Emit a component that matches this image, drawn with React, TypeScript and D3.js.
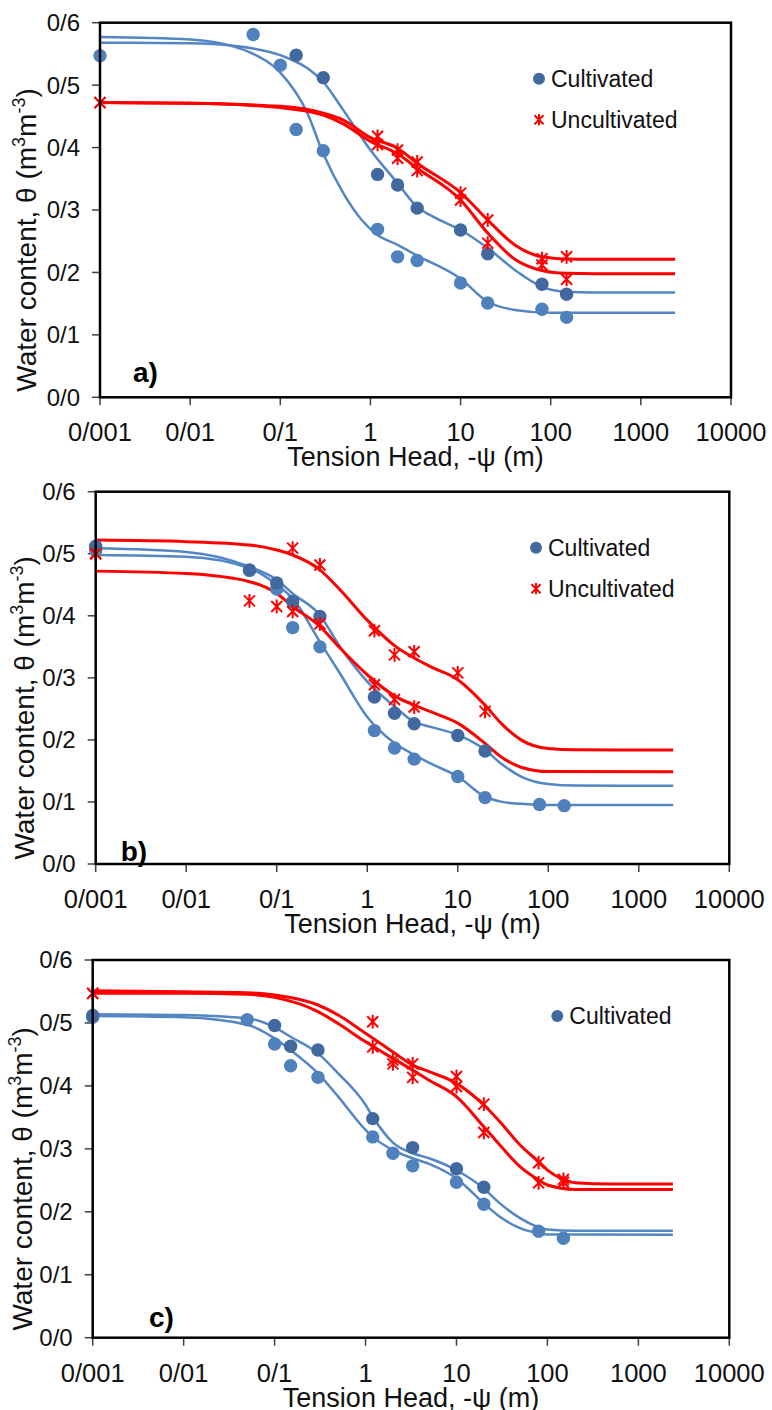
import React from 'react'
import * as d3 from 'd3'

type Pt = [number, number]

// tick labels (the figure uses "/" as decimal separator)
const xTickValues = [0.001, 0.01, 0.1, 1, 10, 100, 1000, 10000]
const xTickLabels = ['0/001', '0/01', '0/1', '1', '10', '100', '1000', '10000']
const yTickValues = [0, 0.1, 0.2, 0.3, 0.4, 0.5, 0.6]
const yTickLabels = ['0/0', '0/1', '0/2', '0/3', '0/4', '0/5', '0/6']

// ---- panel a) measured points [tension head (m), theta]
const aCultDark: Pt[] = [[0.15, 0.548], [0.3, 0.512], [1.2, 0.357], [2, 0.34], [3.3, 0.303], [10, 0.268], [20, 0.23], [80, 0.181], [150, 0.165]]
const aCultLight: Pt[] = [[0.001, 0.547], [0.05, 0.581], [0.1, 0.532], [0.15, 0.429], [0.3, 0.395], [1.2, 0.269], [2, 0.225], [3.3, 0.219], [10, 0.183], [20, 0.151], [80, 0.141], [150, 0.128]]
const aUncult1: Pt[] = [[0.001, 0.472], [1.2, 0.418], [2, 0.396], [3.3, 0.377], [10, 0.327], [20, 0.284], [80, 0.222], [150, 0.225]]
const aUncult2: Pt[] = [[0.001, 0.472], [1.2, 0.405], [2, 0.383], [3.3, 0.363], [10, 0.316], [20, 0.247], [80, 0.212], [150, 0.189]]
// fitted curves
const aFitDark: Pt[] = [[0.001, 0.568], [0.01, 0.567], [0.03, 0.563], [0.1, 0.548], [0.2, 0.527], [0.3, 0.505], [0.5, 0.46], [1, 0.396], [2, 0.343], [3.3, 0.305], [5, 0.289], [10, 0.268], [20, 0.239], [40, 0.204], [80, 0.177], [150, 0.169], [300, 0.168], [2400, 0.168]]
const aFitLight: Pt[] = [[0.001, 0.577], [0.01, 0.573], [0.03, 0.562], [0.05, 0.55], [0.1, 0.52], [0.2, 0.455], [0.3, 0.39], [0.5, 0.327], [0.8, 0.284], [1.2, 0.26], [2, 0.244], [3.3, 0.227], [10, 0.19], [20, 0.153], [40, 0.14], [100, 0.1355], [2400, 0.1355]]
const aFitRed1: Pt[] = [[0.001, 0.472], [0.01, 0.471], [0.1, 0.466], [0.3, 0.455], [0.5, 0.444], [1, 0.416], [2, 0.399], [3.3, 0.375], [10, 0.328], [20, 0.284], [40, 0.244], [80, 0.225], [150, 0.2215], [300, 0.221], [2400, 0.221]]
const aFitRed2: Pt[] = [[0.001, 0.472], [0.01, 0.471], [0.1, 0.464], [0.3, 0.452], [0.5, 0.438], [1, 0.41], [2, 0.39], [3.3, 0.367], [10, 0.316], [20, 0.263], [40, 0.221], [80, 0.203], [150, 0.1985], [300, 0.198], [2400, 0.198]]

// ---- panel b)
const bCultDark: Pt[] = [[0.001, 0.512], [0.05, 0.474], [0.1, 0.453], [0.15, 0.423], [0.3, 0.399], [1.2, 0.269], [2, 0.243], [3.3, 0.226], [10, 0.207], [20, 0.182]]
const bCultLight: Pt[] = [[0.001, 0.505], [0.05, 0.473], [0.1, 0.443], [0.15, 0.381], [0.3, 0.35], [1.2, 0.215], [2, 0.187], [3.3, 0.169], [10, 0.141], [20, 0.107], [80, 0.096], [150, 0.094]]
const bUncult1: Pt[] = [[0.001, 0.5], [0.15, 0.509], [0.3, 0.482], [1.2, 0.376], [2, 0.337], [3.3, 0.342], [10, 0.308], [20, 0.246]]
const bUncult2: Pt[] = [[0.001, 0.5], [0.05, 0.424], [0.1, 0.415], [0.15, 0.407], [0.3, 0.387], [1.2, 0.289], [2, 0.265], [3.3, 0.253]]
const bFitRed1: Pt[] = [[0.001, 0.522], [0.01, 0.5195], [0.05, 0.514], [0.1, 0.506], [0.15, 0.498], [0.3, 0.474], [0.5, 0.442], [1, 0.393], [2, 0.352], [3.3, 0.332], [5, 0.318], [10, 0.297], [20, 0.256], [30, 0.227], [50, 0.2], [100, 0.186], [200, 0.184], [2400, 0.1837]]
const bFitRed2: Pt[] = [[0.001, 0.472], [0.01, 0.468], [0.05, 0.455], [0.1, 0.436], [0.15, 0.415], [0.3, 0.383], [0.5, 0.348], [1, 0.305], [2, 0.271], [3.3, 0.256], [5, 0.2455], [10, 0.227], [20, 0.1945], [30, 0.173], [50, 0.156], [100, 0.149], [2400, 0.1488]]
const bFitDark: Pt[] = [[0.001, 0.509], [0.01, 0.503], [0.05, 0.479], [0.1, 0.458], [0.15, 0.436], [0.3, 0.401], [0.5, 0.35], [1, 0.294], [2, 0.254], [3.3, 0.229], [5, 0.221], [10, 0.208], [20, 0.184], [30, 0.162], [50, 0.141], [100, 0.129], [200, 0.1265], [2400, 0.1262]]
const bFitLight: Pt[] = [[0.001, 0.498], [0.01, 0.495], [0.05, 0.4765], [0.1, 0.45], [0.15, 0.428], [0.3, 0.358], [0.5, 0.307], [1, 0.237], [2, 0.195], [3.3, 0.176], [5, 0.162], [10, 0.141], [20, 0.1085], [30, 0.1005], [50, 0.097], [100, 0.095], [2400, 0.095]]

// ---- panel c)
const cCultDark: Pt[] = [[0.001, 0.512], [0.1, 0.496], [0.15, 0.463], [0.3, 0.457], [1.2, 0.348], [3.3, 0.302], [10, 0.2685], [20, 0.239]]
const cCultLight: Pt[] = [[0.001, 0.509], [0.05, 0.505], [0.1, 0.4665], [0.15, 0.432], [0.3, 0.4136], [1.2, 0.319], [2, 0.293], [3.3, 0.273], [10, 0.247], [20, 0.212], [80, 0.169], [150, 0.158]]
const cUncult1: Pt[] = [[0.001, 0.547], [1.2, 0.502], [2, 0.441], [3.3, 0.435], [10, 0.415], [20, 0.371], [80, 0.278], [150, 0.2515]]
const cUncult2: Pt[] = [[0.001, 0.547], [1.2, 0.462], [2, 0.435], [3.3, 0.4135], [10, 0.399], [20, 0.326], [80, 0.246], [150, 0.247]]
const cFitRed1: Pt[] = [[0.001, 0.551], [0.01, 0.5496], [0.05, 0.548], [0.1, 0.5444], [0.3, 0.5285], [0.5, 0.5126], [1, 0.4835], [2, 0.454], [3.3, 0.433], [5, 0.4226], [10, 0.404], [20, 0.3696], [30, 0.343], [50, 0.306], [80, 0.2796], [100, 0.2663], [150, 0.2515], [200, 0.2462], [500, 0.244], [2400, 0.244]]
const cFitRed2: Pt[] = [[0.001, 0.547], [0.01, 0.547], [0.05, 0.5454], [0.1, 0.5406], [0.3, 0.518], [0.5, 0.499], [1, 0.47], [2, 0.4437], [3.3, 0.425], [5, 0.409], [10, 0.383], [20, 0.335], [30, 0.306], [50, 0.2716], [80, 0.2505], [100, 0.2425], [200, 0.2356], [2400, 0.2356]]
const cFitDark: Pt[] = [[0.001, 0.514], [0.01, 0.5126], [0.05, 0.5073], [0.1, 0.493], [0.15, 0.478], [0.3, 0.4517], [0.5, 0.42], [1, 0.37], [1.2, 0.351], [2, 0.31], [3.3, 0.293], [5, 0.285], [10, 0.266], [20, 0.237], [30, 0.2134], [50, 0.19], [100, 0.172], [200, 0.17], [2400, 0.17]]
const cFitLight: Pt[] = [[0.001, 0.511], [0.01, 0.509], [0.05, 0.497], [0.1, 0.4755], [0.15, 0.457], [0.3, 0.42], [0.5, 0.383], [1, 0.33], [1.2, 0.319], [2, 0.298], [3.3, 0.285], [5, 0.276], [10, 0.253], [20, 0.2134], [30, 0.192], [50, 0.174], [80, 0.166], [100, 0.164], [2400, 0.1635]]

const DARK = '#41699f'
const LIGHT = '#4f81bd'
const LINE_BLUE = '#5486c4'
const RED = '#ff0000'
const FONT = 'Liberation Sans, Arial, sans-serif'

interface PanelProps {
  left: number
  right: number
  top: number
  bottom: number
  label: string
  labelX: number
  labelY: number
  titleX: number
  legendX: number
  showUncult: boolean
  cultDark: Pt[]
  cultLight: Pt[]
  uncult1: Pt[]
  uncult2: Pt[]
  fitDark: Pt[]
  fitLight: Pt[]
  fitRed1: Pt[]
  fitRed2: Pt[]
}

const starPath = (s: number) =>
  `M${-s},${-s}L${s},${s}M${-s},${s}L${s},${-s}M0,${-s * 1.25}L0,${s * 1.25}`

const Panel = (p: PanelProps) => {
  const x = d3.scaleLog().domain([0.001, 10000]).range([p.left, p.right])
  const y = d3.scaleLinear().domain([0, 0.6]).range([p.bottom, p.top])
  const line = d3.line<Pt>()
    .x(d => x(d[0]))
    .y(d => y(d[1]))
    .curve(d3.curveMonotoneX)
  const midY = (p.top + p.bottom) / 2 + 30

  return (
    <g fontFamily={FONT}>
      {/* y ticks */}
      {yTickValues.map((v, i) => (
        <g key={'y' + i}>
          <line x1={p.left - 8} x2={p.left} y1={y(v)} y2={y(v)} stroke="#404040" strokeWidth={1.5} />
          <text x={p.left - 20} y={y(v)} dy="0.35em" textAnchor="end" fontSize={24} fill="#111">{yTickLabels[i]}</text>
        </g>
      ))}
      {/* x ticks */}
      {xTickValues.map((v, i) => (
        <g key={'x' + i}>
          <line x1={x(v)} x2={x(v)} y1={p.bottom} y2={p.bottom + 8} stroke="#404040" strokeWidth={1.5} />
          <text x={x(v)} y={p.bottom + 44} textAnchor="middle" fontSize={25.5} fill="#111">{xTickLabels[i]}</text>
        </g>
      ))}

      {/* fitted curves */}
      <path d={line(p.fitDark) ?? ''} fill="none" stroke={LINE_BLUE} strokeWidth={2.5} />
      <path d={line(p.fitLight) ?? ''} fill="none" stroke={LINE_BLUE} strokeWidth={2.5} />
      <path d={line(p.fitRed1) ?? ''} fill="none" stroke={RED} strokeWidth={3} />
      <path d={line(p.fitRed2) ?? ''} fill="none" stroke={RED} strokeWidth={3} />

      {/* measured points */}
      {p.cultLight.map((d, i) => (
        <circle key={'l' + i} cx={x(d[0])} cy={y(d[1])} r={6.7} fill={LIGHT} />
      ))}
      {p.cultDark.map((d, i) => (
        <circle key={'d' + i} cx={x(d[0])} cy={y(d[1])} r={6.7} fill={DARK} />
      ))}
      {[...p.uncult1, ...p.uncult2].map((d, i) => (
        <path key={'u' + i} d={starPath(5.5)} transform={`translate(${x(d[0])},${y(d[1])})`} fill="none" stroke={RED} strokeWidth={2} />
      ))}

      {/* frame */}
      <rect x={p.left} y={p.top} width={p.right - p.left} height={p.bottom - p.top} fill="none" stroke="#000" strokeWidth={2.5} />

      {/* legend */}
      <circle cx={p.legendX} cy={p.top + 56} r={6} fill={DARK} />
      <text x={p.legendX + 12} y={p.top + 64} fontSize={23} fill="#111">Cultivated</text>
      {p.showUncult && (
        <g>
          <path d={starPath(4.5)} transform={`translate(${p.legendX},${p.top + 97})`} fill="none" stroke={RED} strokeWidth={2} />
          <text x={p.legendX + 12} y={p.top + 105} fontSize={23} fill="#111">Uncultivated</text>
        </g>
      )}

      {/* panel label */}
      <text x={p.labelX} y={p.labelY} fontSize={28} fontWeight="bold" fill="#000">{p.label}</text>

      {/* axis titles */}
      <text x={(p.left + p.right) / 2} y={p.bottom + 69} textAnchor="middle" fontSize={27} fill="#111">Tension Head, -ψ (m)</text>
      <text transform={`translate(${p.titleX},${midY}) rotate(-90)`} textAnchor="middle" fontSize={28} fill="#111">
        Water content, θ (m<tspan fontSize={18} dy={-11}>3</tspan><tspan dy={11}>m</tspan><tspan fontSize={18} dy={-11}>-3</tspan><tspan dy={11}>)</tspan>
      </text>
    </g>
  )
}

export default function App() {
  return (
    <svg width={772} height={1410} style={{ position: 'absolute', left: 0, top: 0, background: '#fff' }}>
      <rect width={772} height={1410} fill="#fff" />
      <Panel left={100} right={731} top={22.7} bottom={397.3} label="a)" labelX={133} labelY={381.7} titleX={36} legendX={539} showUncult
        cultDark={aCultDark} cultLight={aCultLight} uncult1={aUncult1} uncult2={aUncult2}
        fitDark={aFitDark} fitLight={aFitLight} fitRed1={aFitRed1} fitRed2={aFitRed2} />
      <Panel left={95.7} right={729.3} top={491.7} bottom={864} label="b)" labelX={120.7} labelY={861} titleX={34} legendX={536} showUncult
        cultDark={bCultDark} cultLight={bCultLight} uncult1={bUncult1} uncult2={bUncult2}
        fitDark={bFitDark} fitLight={bFitLight} fitRed1={bFitRed1} fitRed2={bFitRed2} />
      <Panel left={92.7} right={729.3} top={960} bottom={1337.7} label="c)" labelX={149} labelY={1327} titleX={32} legendX={557.3} showUncult={false}
        cultDark={cCultDark} cultLight={cCultLight} uncult1={cUncult1} uncult2={cUncult2}
        fitDark={cFitDark} fitLight={cFitLight} fitRed1={cFitRed1} fitRed2={cFitRed2} />
    </svg>
  )
}
